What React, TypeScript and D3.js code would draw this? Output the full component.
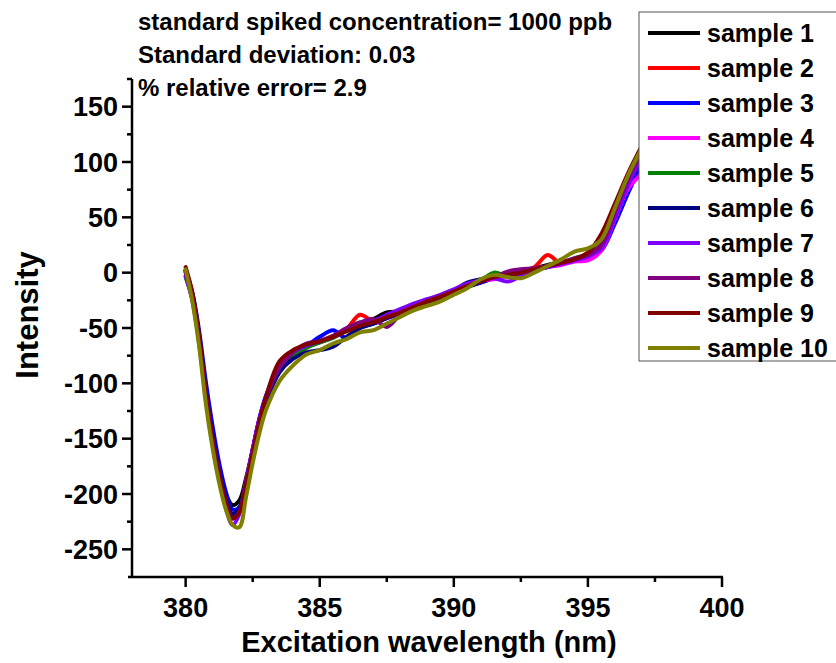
import React from "react";
import * as d3 from "d3";

const wavelengths = [380, 380.25, 380.5, 380.75, 381, 381.25, 381.5, 381.75, 382, 382.25, 382.5, 382.75, 383, 383.5, 384, 384.5, 385, 385.5, 386, 386.5, 387, 387.5, 388, 388.5, 389, 389.5, 390, 390.5, 391, 391.5, 392, 392.5, 393, 393.5, 394, 394.5, 395, 395.5, 396, 396.5, 397, 397.5, 398];

const sample1 = [2, -20, -57, -105, -146, -178, -200, -210, -206, -186, -160, -133, -113, -86, -73, -67, -63, -58, -52, -47, -42, -36, -35, -32, -27, -21, -17, -13, -9, -5, -1, 2, 4, 7, 9, 12, 16, 24, 52, 82, 106, 128, 150];
const sample2 = [1, -21, -59, -108, -149, -181, -205, -219, -214, -189, -160, -133, -112, -86, -73, -67, -62, -57, -51, -38, -44, -41, -35, -30, -26, -21, -16, -12, -7, -3, -2, 1, 5, 16, 8, 12, 18, 30, 60, 88, 112, 134, 156];
const sample3 = [2, -18, -52, -98, -138, -172, -198, -214, -212, -190, -160, -132, -111, -84, -72, -66, -58, -52, -59, -50, -46, -41, -37, -32, -27, -23, -18, -12, -9, -4, -1, 1, 3, 6, 8, 11, 14, 20, 44, 72, 98, 122, 144];
const sample4 = [1, -21, -60, -110, -151, -183, -207, -222, -216, -190, -162, -134, -114, -86, -72, -66, -62, -58, -51, -46, -43, -41, -37, -31, -25, -21, -17, -11, -7, -6, -3, -1, 2, 5, 7, 10, 11, 20, 48, 76, 90, 110, 130];
const sample5 = [-4, -24, -61, -110, -150, -182, -205, -219, -214, -190, -163, -136, -116, -89, -76, -68, -63, -59, -52, -45, -45, -40, -36, -31, -26, -22, -17, -12, -7, 0, -3, -1, 3, 6, 9, 13, 17, 25, 54, 84, 108, 130, 152];
const sample6 = [2, -20, -57, -106, -147, -180, -204, -218, -213, -190, -163, -136, -116, -90, -78, -72, -70, -67, -58, -50, -46, -41, -37, -31, -27, -22, -16, -9, -6, -3, -1, 1, 3, 5, 9, 12, 15, 23, 50, 80, 104, 126, 148];
const sample7 = [-3, -25, -63, -113, -154, -186, -212, -228, -218, -190, -160, -132, -112, -85, -72, -66, -62, -58, -52, -47, -44, -38, -33, -28, -24, -20, -15, -10, -7, -5, -8, -3, 2, 5, 8, 11, 15, 22, 50, 80, 104, 126, 148];
const sample8 = [0, -22, -60, -110, -150, -182, -207, -222, -216, -191, -162, -134, -113, -86, -72, -64, -62, -57, -50, -45, -42, -49, -38, -32, -26, -21, -17, -12, -7, -4, 1, 3, 4, 6, 9, 13, 16, 25, 55, 85, 109, 131, 153];
const sample9 = [5, -18, -56, -107, -149, -182, -207, -222, -217, -192, -164, -136, -112, -80, -70, -65, -62, -58, -53, -48, -45, -40, -36, -31, -26, -22, -17, -12, -8, -4, -2, 0, 3, 6, 9, 12, 18, 35, 62, 90, 114, 136, 158];
const sample10 = [3, -26, -66, -118, -158, -190, -214, -228, -230, -203, -172, -145, -124, -98, -84, -74, -70, -64, -60, -54, -52, -46, -40, -34, -30, -26, -20, -14, -6, -2, -4, -5, 0, 6, 12, 19, 22, 30, 58, 88, 112, 134, 156];

const seriesNames = ["sample 1", "sample 2", "sample 3", "sample 4", "sample 5", "sample 6", "sample 7", "sample 8", "sample 9", "sample 10"];
const seriesValues = [sample1, sample2, sample3, sample4, sample5, sample6, sample7, sample8, sample9, sample10];
const seriesColors = ["#000000", "#ff0000", "#0000ff", "#ff00ff", "#008000", "#000080", "#8000ff", "#800080", "#800000", "#808000"];

const xTicks = [380, 385, 390, 395, 400];
const xMinorTicks = [382.5, 387.5, 392.5, 397.5];
const yTicks = [-250, -200, -150, -100, -50, 0, 50, 100, 150];
const yMinorTicks = [-225, -175, -125, -75, -25, 25, 75, 125, 175];

const annotations = ["standard spiked concentration= 1000 ppb", "Standard deviation: 0.03", "% relative error= 2.9"];

const FONT = "'Liberation Sans', Arial, Helvetica, sans-serif";

export default function App() {
  const left = 132, right = 722, top = 79, bottom = 577;
  const x = d3.scaleLinear().domain([378, 400]).range([left, right]);
  const y = d3.scaleLinear().domain([-275, 175]).range([bottom, top]);
  const line = d3
    .line<[number, number]>()
    .x((d) => x(d[0]))
    .y((d) => y(d[1]))
    .curve(d3.curveCatmullRom.alpha(0.5));

  const legendX = 639, legendY = 12, legendH = 349, rowH = 35;

  return (
    <svg width={836} height={663} style={{ position: "absolute", left: 0, top: 0, background: "#fff" }} fontFamily={FONT} fontWeight="bold">
      <defs>
        <clipPath id="plotclip">
          <rect x={left} y={top} width={right - left} height={bottom - top} />
        </clipPath>
      </defs>
      <rect x={0} y={0} width={836} height={663} fill="#fff" />
      <g clipPath="url(#plotclip)">
        {seriesValues.map((vals, i) => (
          <path
            key={i}
            d={line(wavelengths.map((w, j) => [w, vals[j]] as [number, number])) || ""}
            fill="none"
            stroke={seriesColors[i]}
            strokeWidth={4}
            strokeLinejoin="round"
            strokeLinecap="round"
          />
        ))}
      </g>
      {/* axes */}
      <line x1={left} x2={left} y1={top} y2={bottom + 1} stroke="#000" strokeWidth={2.5} />
      <line x1={left - 4} x2={right + 1} y1={bottom} y2={bottom} stroke="#000" strokeWidth={2.5} />
      {yTicks.map((t) => (
        <g key={"yt" + t}>
          <line x1={left - 10} x2={left} y1={y(t)} y2={y(t)} stroke="#000" strokeWidth={2.5} />
          <text x={left - 14} y={y(t)} dy="0.36em" textAnchor="end" fontSize={27}>
            {t}
          </text>
        </g>
      ))}
      {yMinorTicks.map((t) => (
        <line key={"ym" + t} x1={left - 5} x2={left} y1={y(t)} y2={y(t)} stroke="#000" strokeWidth={2.5} />
      ))}
      {xTicks.map((t) => (
        <g key={"xt" + t}>
          <line x1={x(t)} x2={x(t)} y1={bottom} y2={bottom + 10} stroke="#000" strokeWidth={2.5} />
          <text x={x(t)} y={bottom + 40} textAnchor="middle" fontSize={27}>
            {t}
          </text>
        </g>
      ))}
      {xMinorTicks.map((t) => (
        <line key={"xm" + t} x1={x(t)} x2={x(t)} y1={bottom} y2={bottom + 5} stroke="#000" strokeWidth={2.5} />
      ))}
      <text x={(left + right) / 2 + 2} y={652} textAnchor="middle" fontSize={29}>
        Excitation wavelength (nm)
      </text>
      <text transform={`translate(38,315) rotate(-90)`} textAnchor="middle" fontSize={31}>
        Intensity
      </text>
      {annotations.map((a, i) => (
        <text key={a} x={138} y={30 + i * 33} fontSize={24}>
          {a}
        </text>
      ))}
      {/* legend */}
      <rect x={legendX} y={legendY} width={260} height={legendH} fill="#fff" stroke="#555" strokeWidth={1} />
      {seriesNames.map((n, i) => (
        <g key={n}>
          <line x1={648} x2={700} y1={33 + i * rowH} y2={33 + i * rowH} stroke={seriesColors[i]} strokeWidth={4} />
          <text x={707} y={33 + i * rowH + 9} fontSize={25}>
            {n}
          </text>
        </g>
      ))}
    </svg>
  );
}
